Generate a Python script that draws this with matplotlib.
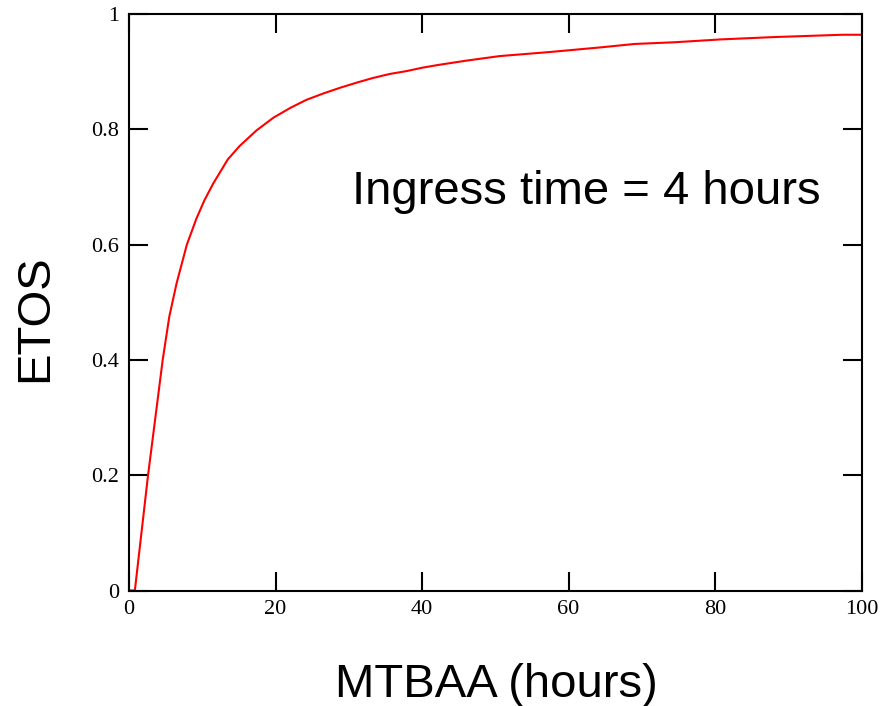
"""
ETOS versus MTBAA for an ingress time of 4 hours
"""

import matplotlib
matplotlib.use('Agg')
import matplotlib.pyplot as plt

# Values
mtbaa = [0, 0.8, 1.7, 2.6, 3.3, 3.9, 4.6, 5.5, 6.5, 7.9, 9.2, 10.3, 11.5,
         13.5, 15.1, 17.4, 19.7, 22.0, 24.2, 26.5, 28.8, 31.1, 33.3, 35.6,
         37.9, 40.1, 42.4, 46.0, 50.6, 57.4, 64.3, 69.0, 74.5, 80.9, 88.1,
         97.4, 100]
etos = [0, 0, 0.10, 0.20, 0.27, 0.33, 0.40, 0.475, 0.533, 0.60, 0.645, 0.677,
        0.706, 0.748, 0.771, 0.798, 0.820, 0.837, 0.851, 0.862, 0.872, 0.881,
        0.889, 0.896, 0.901, 0.907, 0.912, 0.919, 0.927, 0.934, 0.942, 0.948,
        0.951, 0.956, 0.960, 0.964, 0.964]

x_ticks = [0, 20, 40, 60, 80, 100]
y_ticks = [0, 0.2, 0.4, 0.6, 0.8, 1]
y_tick_labels = ['0', '0.2', '0.4', '0.6', '0.8', '1']

fig = plt.figure(figsize=(8.85, 7.06), dpi=100)
ax = fig.add_axes([129 / 885, 1 - 590.5 / 706, 732.5 / 885, 576.5 / 706])

ax.plot(mtbaa, etos, color='red', linewidth=1.5)

ax.set_xlim(0, 100)
ax.set_ylim(0, 1)
ax.set_xticks(x_ticks)
ax.set_yticks(y_ticks)
ax.set_yticklabels(y_tick_labels)
ax.tick_params(direction='in', length=14, width=1.5, top=True, right=True,
               pad=7, labelsize=16)
for lbl in ax.get_xticklabels() + ax.get_yticklabels():
    lbl.set_family('Liberation Serif')
for spine in ax.spines.values():
    spine.set_linewidth(1.5)

ax.text(30.5, 0.671, 'Ingress time = 4 hours', family='Liberation Sans',
        fontsize=34, ha='left', va='baseline')

fig.text(35 / 885, 1 - 318 / 706, 'ETOS', family='Liberation Sans',
         fontsize=34, rotation=90, ha='center', va='center')
fig.text(496 / 885, 9 / 706, 'MTBAA (hours)', family='Liberation Sans',
         fontsize=34, ha='center', va='baseline')

fig.savefig('out.png', dpi=100)
